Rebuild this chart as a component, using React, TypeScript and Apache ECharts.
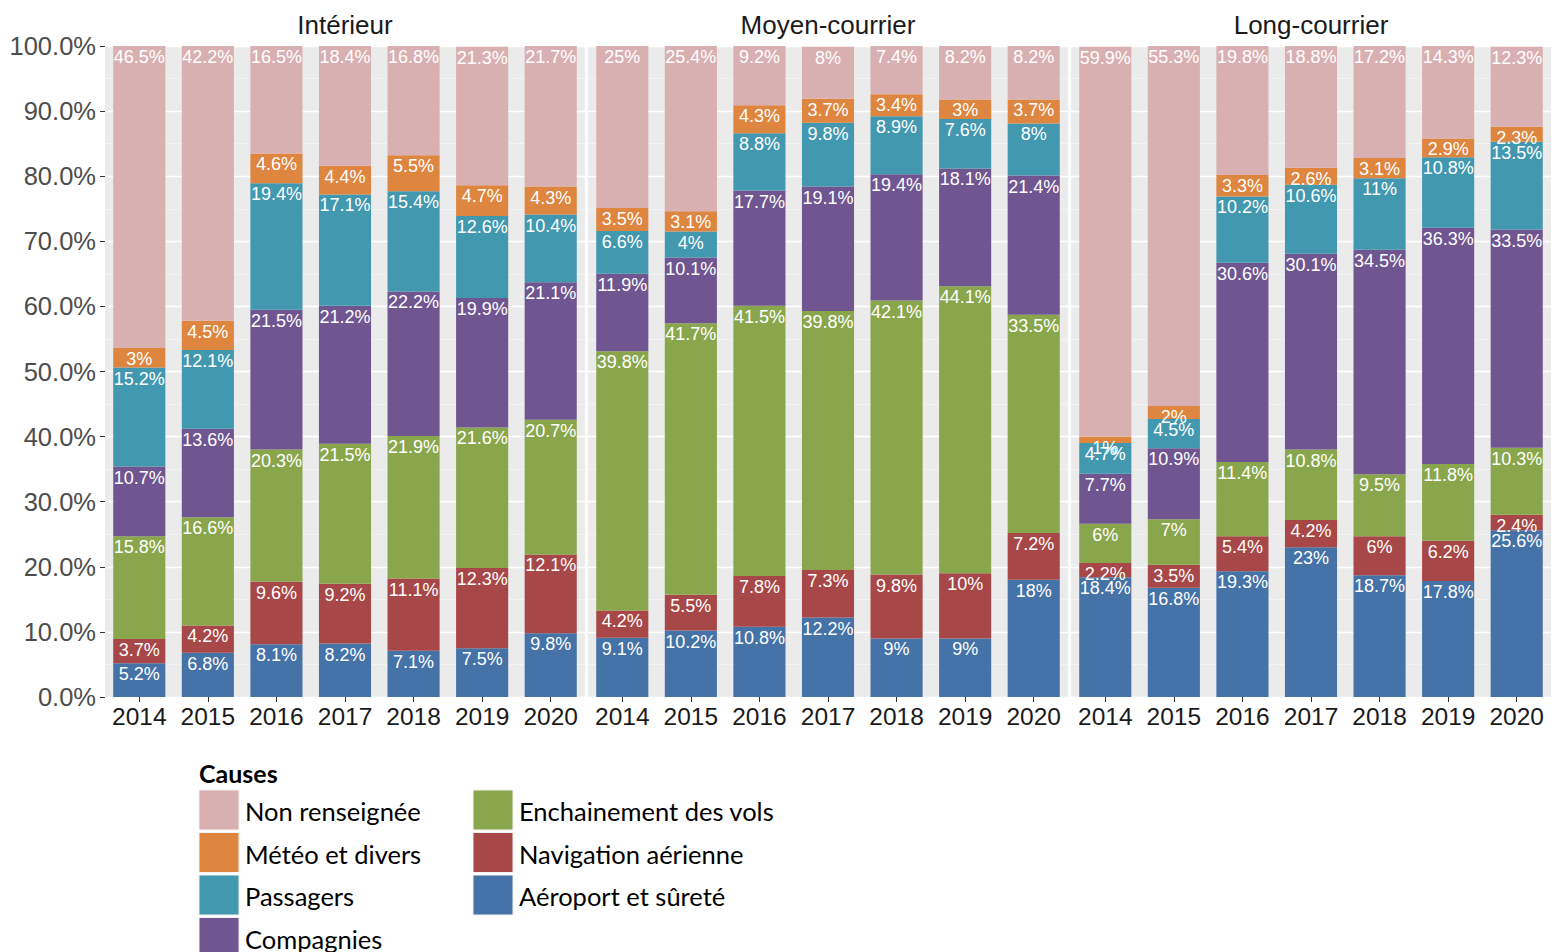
import React, { useEffect, useRef } from "react";
import * as echarts from "echarts";

const years = ["2014", "2015", "2016", "2017", "2018", "2019", "2020"];
const panels = ["Intérieur", "Moyen-courrier", "Long-courrier"];

// stacking order, bottom to top
const causes = [
  "Aéroport et sûreté",
  "Navigation aérienne",
  "Enchainement des vols",
  "Compagnies",
  "Passagers",
  "Météo et divers",
  "Non renseignée",
];
const causeColors = ["#4572A7", "#A84747", "#8AA64D", "#6F5690", "#4298AF", "#DE8540", "#D9B0B1"];

// values per panel: [Intérieur, Moyen-courrier, Long-courrier]
const aeroportSurete = [
  [5.2, 6.8, 8.1, 8.2, 7.1, 7.5, 9.8],
  [9.1, 10.2, 10.8, 12.2, 9, 9, 18],
  [18.4, 16.8, 19.3, 23, 18.7, 17.8, 25.6],
];
const navigationAerienne = [
  [3.7, 4.2, 9.6, 9.2, 11.1, 12.3, 12.1],
  [4.2, 5.5, 7.8, 7.3, 9.8, 10, 7.2],
  [2.2, 3.5, 5.4, 4.2, 6, 6.2, 2.4],
];
const enchainementVols = [
  [15.8, 16.6, 20.3, 21.5, 21.9, 21.6, 20.7],
  [39.8, 41.7, 41.5, 39.8, 42.1, 44.1, 33.5],
  [6, 7, 11.4, 10.8, 9.5, 11.8, 10.3],
];
const compagnies = [
  [10.7, 13.6, 21.5, 21.2, 22.2, 19.9, 21.1],
  [11.9, 10.1, 17.7, 19.1, 19.4, 18.1, 21.4],
  [7.7, 10.9, 30.6, 30.1, 34.5, 36.3, 33.5],
];
const passagers = [
  [15.2, 12.1, 19.4, 17.1, 15.4, 12.6, 10.4],
  [6.6, 4, 8.8, 9.8, 8.9, 7.6, 8],
  [4.7, 4.5, 10.2, 10.6, 11, 10.8, 13.5],
];
const meteoDivers = [
  [3, 4.5, 4.6, 4.4, 5.5, 4.7, 4.3],
  [3.5, 3.1, 4.3, 3.7, 3.4, 3, 3.7],
  [1, 2, 3.3, 2.6, 3.1, 2.9, 2.3],
];
const nonRenseignee = [
  [46.5, 42.2, 16.5, 18.4, 16.8, 21.3, 21.7],
  [25, 25.4, 9.2, 8, 7.4, 8.2, 8.2],
  [59.9, 55.3, 19.8, 18.8, 17.2, 14.3, 12.3],
];
const causeValues = [
  aeroportSurete,
  navigationAerienne,
  enchainementVols,
  compagnies,
  passagers,
  meteoDivers,
  nonRenseignee,
];

// legend order (two columns)
const legendCol1 = [6, 5, 4, 3];
const legendCol2 = [2, 1, 0];

const SANS = "'Liberation Sans', Arial, sans-serif";
const LEG = "Lato, 'Open Sans', sans-serif";

export default function App() {
  const ref = useRef<HTMLDivElement>(null);
  useEffect(() => {
    if (!ref.current) return;
    const chart = echarts.init(ref.current, null, { renderer: "svg" });
    const panelLeft = [105, 588, 1071];
    const panelW = 480;
    const top = 46;
    const h = 651;

    const grids = panels.map((_, i) => ({
      left: panelLeft[i],
      top,
      width: panelW,
      height: h,
      show: true,
      backgroundColor: "#EBEBEB",
      borderWidth: 0,
    }));
    const xAxes = panels.map((_, i) => ({
      type: "category",
      gridIndex: i,
      data: years,
      axisLine: { show: false },
      axisTick: { show: true, alignWithLabel: true, length: 5, lineStyle: { color: "#333", width: 1 } },
      axisLabel: { interval: 0, fontSize: 24.5, color: "#1A1A1A", margin: 7, fontFamily: SANS },
      splitLine: { show: false },
    }));
    const yAxes = panels.map((_, i) => ({
      type: "value",
      gridIndex: i,
      min: 0,
      max: 100,
      interval: 10,
      axisLine: { show: false },
      axisTick: { show: i === 0, length: 5, lineStyle: { color: "#333" } },
      axisLabel: {
        show: i === 0,
        fontSize: 25.5,
        color: "#4D4D4D",
        margin: 9,
        fontFamily: SANS,
        formatter: (v: number) => v.toFixed(1) + "%",
      },
      splitLine: { show: true, lineStyle: { color: "#FFFFFF", width: 1.4 } },
      minorTick: { show: false, splitNumber: 2 },
      minorSplitLine: { show: true, lineStyle: { color: "#F6F6F6", width: 0.7 } },
    }));

    const series: any[] = [];
    panels.forEach((_, i) => {
      causes.forEach((c, k) => {
        series.push({
          type: "bar",
          name: c,
          xAxisIndex: i,
          yAxisIndex: i,
          stack: "s" + i,
          barWidth: "76%",
          data: causeValues[k][i],
          itemStyle: { color: causeColors[k] },
          label: {
            show: true,
            position: "insideTop",
            distance: 2,
            color: "#FFFFFF",
            fontSize: 18,
            fontFamily: SANS,
            formatter: (p: any) => p.value + "%",
          },
        });
      });
    });

    const graphics: any[] = [];
    panels.forEach((p, i) => {
      graphics.push({
        type: "text",
        x: panelLeft[i] + panelW / 2,
        y: 25,
        style: {
          text: p,
          fontSize: 26,
          fontFamily: SANS,
          fill: "#1A1A1A",
          textAlign: "center",
          textVerticalAlign: "middle",
        },
      });
    });
    graphics.push({
      type: "text",
      x: 199,
      y: 773,
      style: {
        text: "Causes",
        fontSize: 25,
        fontWeight: "bold",
        fontFamily: LEG,
        fill: "#000",
        textVerticalAlign: "middle",
      },
    });
    const rowTop = [790, 832.5, 875, 917.5];
    const addLegend = (list: number[], bx: number) => {
      list.forEach((k, r) => {
        graphics.push({
          type: "rect",
          shape: { x: bx, y: rowTop[r], width: 40, height: 40 },
          style: { fill: causeColors[k], stroke: "#F2F2F2", lineWidth: 1 },
        });
        graphics.push({
          type: "text",
          x: bx + 46,
          y: rowTop[r] + 21,
          style: {
            text: causes[k],
            fontSize: 25.5,
            fontFamily: LEG,
            fill: "#000",
            textVerticalAlign: "middle",
          },
        });
      });
    };
    addLegend(legendCol1, 199);
    addLegend(legendCol2, 473);

    chart.setOption({
      animation: false,
      backgroundColor: "#FFFFFF",
      grid: grids,
      xAxis: xAxes,
      yAxis: yAxes,
      series,
      graphic: graphics,
    });
    return () => chart.dispose();
  }, []);
  return (
    <div
      ref={ref}
      style={{ position: "absolute", left: 0, top: 0, width: 1559, height: 952 }}
    />
  );
}
